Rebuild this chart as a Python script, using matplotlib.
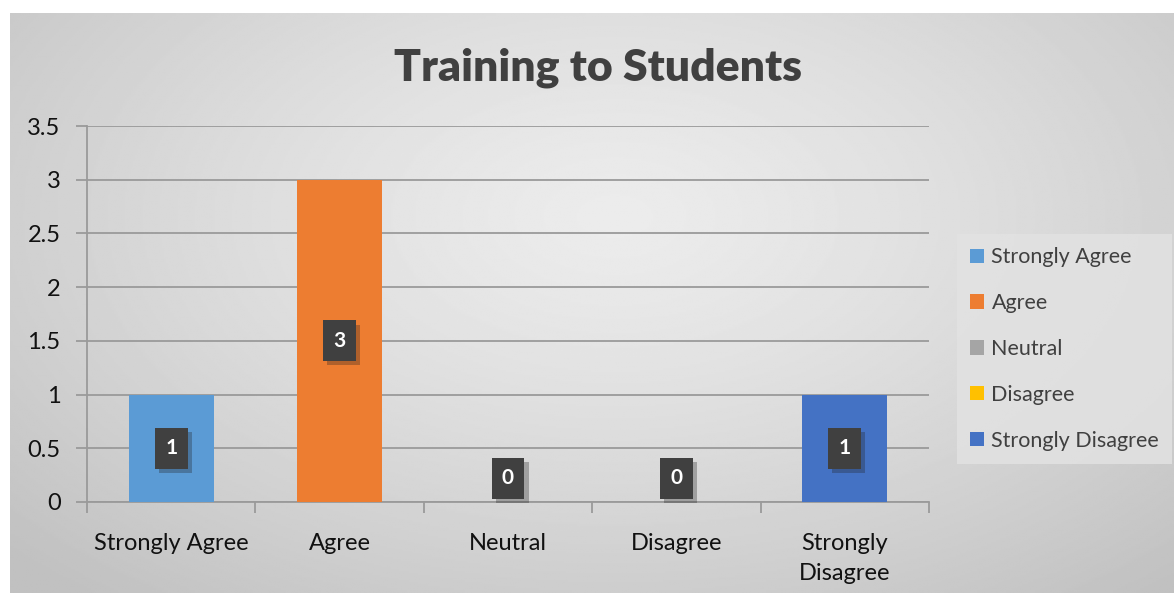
import matplotlib.pyplot as plt
import matplotlib.patheffects as pe
from matplotlib.patches import Patch
import numpy as np

plt.rcParams['font.family'] = ['Lato', 'DejaVu Sans']

# Chart data
categories = ['Strongly Agree', 'Agree', 'Neutral', 'Disagree', 'Strongly\nDisagree']
legend_names = ['Strongly Agree', 'Agree', 'Neutral', 'Disagree', 'Strongly Disagree']
values = [1, 3, 0, 0, 1]
colors = ['#5B9BD5', '#ED7D31', '#A5A5A5', '#FFC000', '#4472C4']

fig = plt.figure(figsize=(11.74, 5.93), dpi=100)
fig.patch.set_facecolor('white')

# gradient background panel
bg = fig.add_axes([10 / 1174, 0, 1 - 10 / 1174, 1 - 13 / 593], zorder=-5)
yy, xx = np.mgrid[0:1:300j, 0:1:600j]
r = np.sqrt(((xx - 0.52) / 0.72) ** 2 + ((yy - 0.35) / 0.85) ** 2)
shade = 0.925 - 0.17 * np.clip(r, 0, 1) ** 1.3
bg.imshow(shade, cmap='gray', vmin=0, vmax=1, aspect='auto', extent=[0, 1, 1, 0])
bg.axis('off')

ax = fig.add_axes([87 / 1174, 1 - 502 / 593, (929 - 87) / 1174, (502 - 126) / 593])
ax.patch.set_alpha(0)

x = np.arange(len(categories))
ax.bar(x, values, width=0.505, color=colors, zorder=3)

ax.set_ylim(0, 3.5)
ax.set_xlim(-0.5, len(categories) - 0.5)
ax.set_yticks(np.arange(0, 3.51, 0.5))
ax.set_yticklabels(['0', '0.5', '1', '1.5', '2', '2.5', '3', '3.5'])
ax.yaxis.grid(True, color='#9a9a9a', linewidth=1.3, zorder=0)
ax.tick_params(axis='y', length=8, width=1.3, color='#9a9a9a', pad=11,
               labelsize=17, labelcolor='#111111')

ax.set_xticks(x)
ax.set_xticklabels(categories, linespacing=1.55)
ax.set_xticks(np.arange(-0.5, len(categories), 1), minor=True)
ax.tick_params(axis='x', which='major', length=0, pad=22, labelsize=17, labelcolor='#111111')
ax.tick_params(axis='x', which='minor', length=8, width=1.3, color='#9a9a9a')

for s in ['top', 'right']:
    ax.spines[s].set_visible(False)
for s in ['left', 'bottom']:
    ax.spines[s].set_color('#9a9a9a')
    ax.spines[s].set_linewidth(1.3)

# data labels
for xi, v in zip(x, values):
    t = ax.text(xi, max(v / 2, 0.22), str(v), ha='center', va='center', color='white',
                fontsize=15, fontweight='bold', zorder=5,
                bbox=dict(boxstyle='square,pad=0.5', facecolor='#404040', edgecolor='none'))
    t.get_bbox_patch().set_path_effects([
        pe.SimplePatchShadow(offset=(3, -3), shadow_rgbFace='#202020', alpha=0.3),
        pe.Normal()])

fig.text(598 / 1174, 1 - 68 / 593, 'Training to Students', ha='center', va='center',
         fontsize=32, fontweight='heavy', color='#404040')

handles = [Patch(facecolor=c) for c in colors]
leg = fig.legend(handles, legend_names, loc='center left', bbox_to_anchor=(957 / 1174, 1 - 349 / 593),
                 fontsize=15.5, frameon=True, fancybox=False, handlelength=0.65, handleheight=0.65,
                 handletextpad=0.35, labelspacing=1.2, borderpad=0.6, borderaxespad=0,
                 labelcolor='#404040')
leg.get_frame().set_facecolor('#e2e2e2')
leg.get_frame().set_edgecolor('none')
leg.get_frame().set_alpha(0.85)

fig.savefig('out.png', dpi=100)
